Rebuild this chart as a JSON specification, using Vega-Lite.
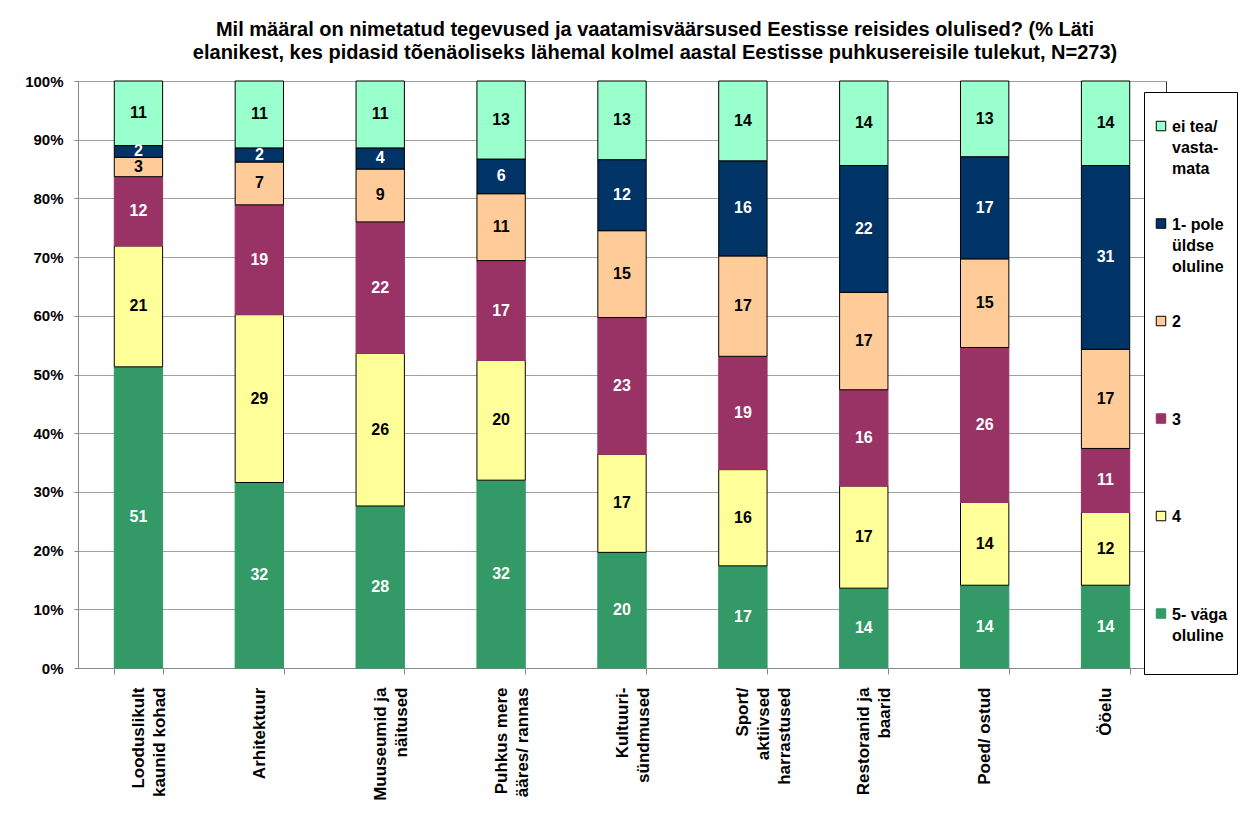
{
  "$schema": "https://vega.github.io/schema/vega-lite/v6.json",
  "width": 1088,
  "height": 587,
  "autosize": {"type": "none"},
  "padding": {"left": 78, "top": 81, "right": 81, "bottom": 153},
  "background": "white",
  "title": {
    "text": ["Mil määral on nimetatud tegevused ja vaatamisväärsused Eestisse reisides olulised? (% Läti", "elanikest, kes pidasid tõenäoliseks lähemal kolmel aastal Eestisse puhkusereisile tulekut, N=273)"],
    "font": "Liberation Sans", "fontSize": 20, "fontWeight": "bold", "lineHeight": 23,
    "anchor": "middle", "dx": 33, "offset": 11, "color": "#000"
  },
  "config": {
    "view": {"stroke": "#333"},
    "style": {"guide-label": {"lineHeight": 21}}
  },
  "data": {"values": [
    {"category": "Looduslikult|kaunid kohad", "series": "5- väga|oluline", "rank": 1, "value": 51.3},
    {"category": "Looduslikult|kaunid kohad", "series": "4", "rank": 2, "value": 20.6},
    {"category": "Looduslikult|kaunid kohad", "series": "3", "rank": 3, "value": 11.8},
    {"category": "Looduslikult|kaunid kohad", "series": "2", "rank": 4, "value": 3.3},
    {"category": "Looduslikult|kaunid kohad", "series": "1- pole|üldse|oluline", "rank": 5, "value": 2.0},
    {"category": "Looduslikult|kaunid kohad", "series": "ei tea/|vasta-|mata", "rank": 6, "value": 11.0},
    {"category": "Arhitektuur", "series": "5- väga|oluline", "rank": 1, "value": 31.6},
    {"category": "Arhitektuur", "series": "4", "rank": 2, "value": 28.6},
    {"category": "Arhitektuur", "series": "3", "rank": 3, "value": 18.7},
    {"category": "Arhitektuur", "series": "2", "rank": 4, "value": 7.3},
    {"category": "Arhitektuur", "series": "1- pole|üldse|oluline", "rank": 5, "value": 2.4},
    {"category": "Arhitektuur", "series": "ei tea/|vasta-|mata", "rank": 6, "value": 11.4},
    {"category": "Muuseumid ja|näitused", "series": "5- väga|oluline", "rank": 1, "value": 27.6},
    {"category": "Muuseumid ja|näitused", "series": "4", "rank": 2, "value": 26.0},
    {"category": "Muuseumid ja|näitused", "series": "3", "rank": 3, "value": 22.4},
    {"category": "Muuseumid ja|näitused", "series": "2", "rank": 4, "value": 9.0},
    {"category": "Muuseumid ja|näitused", "series": "1- pole|üldse|oluline", "rank": 5, "value": 3.6},
    {"category": "Muuseumid ja|näitused", "series": "ei tea/|vasta-|mata", "rank": 6, "value": 11.4},
    {"category": "Puhkus mere|ääres/ rannas", "series": "5- väga|oluline", "rank": 1, "value": 32.0},
    {"category": "Puhkus mere|ääres/ rannas", "series": "4", "rank": 2, "value": 20.4},
    {"category": "Puhkus mere|ääres/ rannas", "series": "3", "rank": 3, "value": 17.0},
    {"category": "Puhkus mere|ääres/ rannas", "series": "2", "rank": 4, "value": 11.4},
    {"category": "Puhkus mere|ääres/ rannas", "series": "1- pole|üldse|oluline", "rank": 5, "value": 5.9},
    {"category": "Puhkus mere|ääres/ rannas", "series": "ei tea/|vasta-|mata", "rank": 6, "value": 13.3},
    {"category": "Kultuuri-|sündmused", "series": "5- väga|oluline", "rank": 1, "value": 19.7},
    {"category": "Kultuuri-|sündmused", "series": "4", "rank": 2, "value": 16.7},
    {"category": "Kultuuri-|sündmused", "series": "3", "rank": 3, "value": 23.3},
    {"category": "Kultuuri-|sündmused", "series": "2", "rank": 4, "value": 14.8},
    {"category": "Kultuuri-|sündmused", "series": "1- pole|üldse|oluline", "rank": 5, "value": 12.1},
    {"category": "Kultuuri-|sündmused", "series": "ei tea/|vasta-|mata", "rank": 6, "value": 13.4},
    {"category": "Sport/|aktiivsed|harrastused", "series": "5- väga|oluline", "rank": 1, "value": 17.4},
    {"category": "Sport/|aktiivsed|harrastused", "series": "4", "rank": 2, "value": 16.4},
    {"category": "Sport/|aktiivsed|harrastused", "series": "3", "rank": 3, "value": 19.3},
    {"category": "Sport/|aktiivsed|harrastused", "series": "2", "rank": 4, "value": 17.1},
    {"category": "Sport/|aktiivsed|harrastused", "series": "1- pole|üldse|oluline", "rank": 5, "value": 16.2},
    {"category": "Sport/|aktiivsed|harrastused", "series": "ei tea/|vasta-|mata", "rank": 6, "value": 13.6},
    {"category": "Restoranid ja|baarid", "series": "5- väga|oluline", "rank": 1, "value": 13.6},
    {"category": "Restoranid ja|baarid", "series": "4", "rank": 2, "value": 17.4},
    {"category": "Restoranid ja|baarid", "series": "3", "rank": 3, "value": 16.4},
    {"category": "Restoranid ja|baarid", "series": "2", "rank": 4, "value": 16.6},
    {"category": "Restoranid ja|baarid", "series": "1- pole|üldse|oluline", "rank": 5, "value": 21.6},
    {"category": "Restoranid ja|baarid", "series": "ei tea/|vasta-|mata", "rank": 6, "value": 14.4},
    {"category": "Poed/ ostud", "series": "5- väga|oluline", "rank": 1, "value": 14.1},
    {"category": "Poed/ ostud", "series": "4", "rank": 2, "value": 14.1},
    {"category": "Poed/ ostud", "series": "3", "rank": 3, "value": 26.4},
    {"category": "Poed/ ostud", "series": "2", "rank": 4, "value": 15.1},
    {"category": "Poed/ ostud", "series": "1- pole|üldse|oluline", "rank": 5, "value": 17.4},
    {"category": "Poed/ ostud", "series": "ei tea/|vasta-|mata", "rank": 6, "value": 12.9},
    {"category": "Ööelu", "series": "5- väga|oluline", "rank": 1, "value": 14.1},
    {"category": "Ööelu", "series": "4", "rank": 2, "value": 12.4},
    {"category": "Ööelu", "series": "3", "rank": 3, "value": 10.9},
    {"category": "Ööelu", "series": "2", "rank": 4, "value": 16.9},
    {"category": "Ööelu", "series": "1- pole|üldse|oluline", "rank": 5, "value": 31.3},
    {"category": "Ööelu", "series": "ei tea/|vasta-|mata", "rank": 6, "value": 14.4}
  ]},
  "transform": [
    {"stack": "value", "groupby": ["category"], "sort": [{"field": "rank", "order": "ascending"}], "as": ["v0", "v1"]},
    {"calculate": "(datum.v0 + datum.v1) / 2", "as": "mid"}
  ],
  "encoding": {
    "x": {
      "field": "category", "type": "nominal", "sort": null,
      "scale": {"paddingInner": 0.6, "paddingOuter": 0.3},
      "axis": {
        "title": null, "labelAngle": -90, "labelExpr": "split(datum.label, '|')",
        "labelFont": "Liberation Sans", "labelFontSize": 17, "labelFontWeight": "bold", "labelColor": "#000",
        "labelLineHeight": 21, "labelPadding": 13, "labelLimit": 300,
        "tickBand": "extent", "tickSize": 6, "tickColor": "#888", "domainColor": "#888"
      }
    }
  },
  "layer": [
    {
      "mark": {"type": "bar", "strokeWidth": 1},
      "encoding": {
        "y": {
          "field": "v0", "type": "quantitative",
          "scale": {"domain": [0, 100], "nice": false},
          "axis": {
            "title": null, "values": [0, 10, 20, 30, 40, 50, 60, 70, 80, 90, 100],
            "labelExpr": "datum.value + '%'",
            "labelFont": "Liberation Sans", "labelFontSize": 15, "labelFontWeight": "bold", "labelColor": "#000",
            "tickSize": 4, "labelPadding": 11, "tickColor": "#888", "domainColor": "#888",
            "gridColor": "#a0a0a0"
          }
        },
        "y2": {"field": "v1"},
        "fill": {
          "field": "series", "type": "nominal",
          "scale": {
            "domain": ["ei tea/|vasta-|mata", "1- pole|üldse|oluline", "2", "3", "4", "5- väga|oluline"],
            "range": ["#99FFCC", "#003366", "#FFCC99", "#993366", "#FFFF99", "#339966"]
          },
          "legend": {
            "orient": "none", "legendX": 1066, "legendY": 11,
            "title": "\u00a0\u00a0\u00a0\u00a0\u00a0\u00a0\u00a0\u00a0\u00a0\u00a0\u00a0\u00a0\u00a0\u00a0\u00a0\u00a0\u00a0\u00a0\u00a0\u00a0\u00a0\u00a0\u00a0\u00a0\u00a0\u00a0\u00a0\u00a0\u00a0\u00a0",
            "titleFontSize": 10, "titlePadding": 0,
            "padding": 9, "strokeColor": "#000", "fillColor": "white",
            "labelFont": "Liberation Sans", "labelFontSize": 16, "labelFontWeight": "bold", "labelColor": "#000",
            "labelBaseline": "top",
            "labelExpr": "slice(split(datum.label + '| | | ', '|'), 0, 3)",
            "labelOffset": 3, "labelLimit": 200,
            "rowPadding": 31.5, "gridAlign": "each",
            "symbolType": "M-1,0.48H1V2.48H-1Z", "symbolSize": 90, "symbolStrokeWidth": 1, "symbolOpacity": 1
          }
        },
        "stroke": {
          "field": "series", "type": "nominal",
          "scale": {
            "domain": ["ei tea/|vasta-|mata", "1- pole|üldse|oluline", "2", "3", "4", "5- väga|oluline"],
            "range": ["#000000", "#000000", "#000000", "#993366", "#000000", "#339966"]
          },
          "legend": {
            "orient": "none", "legendX": 1066, "legendY": 11,
            "title": "\u00a0\u00a0\u00a0\u00a0\u00a0\u00a0\u00a0\u00a0\u00a0\u00a0\u00a0\u00a0\u00a0\u00a0\u00a0\u00a0\u00a0\u00a0\u00a0\u00a0\u00a0\u00a0\u00a0\u00a0\u00a0\u00a0\u00a0\u00a0\u00a0\u00a0",
            "titleFontSize": 10, "titlePadding": 0,
            "padding": 9, "strokeColor": "#000", "fillColor": "white",
            "labelFont": "Liberation Sans", "labelFontSize": 16, "labelFontWeight": "bold", "labelColor": "#000",
            "labelBaseline": "top",
            "labelExpr": "slice(split(datum.label + '| | | ', '|'), 0, 3)",
            "labelOffset": 3, "labelLimit": 200,
            "rowPadding": 31.5, "gridAlign": "each",
            "symbolType": "M-1,0.48H1V2.48H-1Z", "symbolSize": 90, "symbolStrokeWidth": 1, "symbolOpacity": 1
          }
        }
      }
    },
    {
      "mark": {"type": "text", "font": "Liberation Sans", "fontSize": 16, "fontWeight": "bold"},
      "encoding": {
        "y": {"field": "mid", "type": "quantitative"},
        "text": {"field": "value", "type": "quantitative", "format": ".0f"},
        "color": {"condition": {"test": "datum.rank % 2 == 1", "value": "white"}, "value": "black"}
      }
    }
  ]
}
